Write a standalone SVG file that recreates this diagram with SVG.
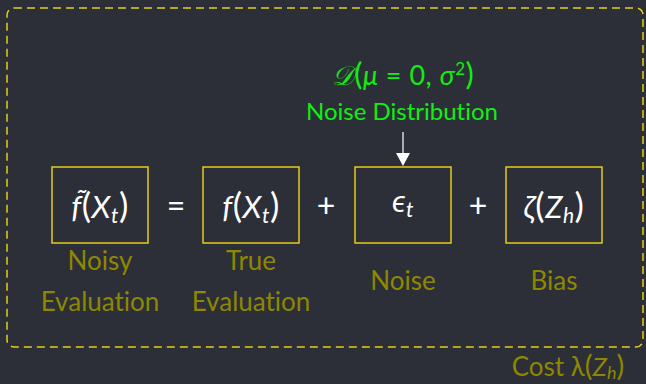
<svg xmlns="http://www.w3.org/2000/svg" width="646" height="384" viewBox="0 0 646 384">
<style>
.box{fill:none;stroke:#e2cd1a;stroke-width:1.5}
.math{font-family:Lato,"DejaVu Sans",sans-serif;font-size:31px;fill:#ffffff;letter-spacing:0.5px}
.it{font-style:italic}
.p{font-size:35px}
.sub{font-size:21px;font-style:italic}
.lbl{font-family:Lato,"Liberation Sans",sans-serif;font-size:26px;fill:#8e8700;text-anchor:middle;font-variant-ligatures:none}
.grn{font-family:Lato,"Liberation Sans",sans-serif;fill:#11ee11;text-anchor:middle;font-variant-ligatures:none}
.op{font-family:Lato,"DejaVu Sans",sans-serif;font-size:32px;fill:#ffffff;text-anchor:middle}
</style>
<rect width="646" height="384" fill="#2c2f38"/>
<rect x="7" y="8" width="636" height="339" rx="7" fill="none" stroke="#e2cd1a" stroke-width="1.5" stroke-dasharray="8 5"/>
<g id="connectors">
<line x1="403" y1="132" x2="403" y2="153" stroke="#ffffff" stroke-width="1.2"/>
<path d="M396,153 L410,153 L403,166 Z" fill="#ffffff"/>
</g>
<g id="noisy">
<rect class="box" x="52" y="167" width="96" height="76"/>
<text class="math" x="100" y="218" text-anchor="middle"><tspan class="it">f̃</tspan><tspan class="p">(</tspan><tspan class="it">X</tspan><tspan class="sub" dy="5">t</tspan><tspan class="p" dy="-5">)</tspan></text>
<text class="lbl" x="100" y="270">Noisy</text>
<text class="lbl" x="100" y="311">Evaluation</text>
</g>
<text class="op" x="176" y="217">=</text>
<g id="true">
<rect class="box" x="203" y="167" width="96" height="76"/>
<text class="math" x="251" y="218" text-anchor="middle"><tspan class="it">f</tspan><tspan class="p">(</tspan><tspan class="it">X</tspan><tspan class="sub" dy="5">t</tspan><tspan class="p" dy="-5">)</tspan></text>
<text class="lbl" x="251" y="270">True</text>
<text class="lbl" x="251" y="311">Evaluation</text>
</g>
<text class="op" x="326" y="217">+</text>
<g id="noise">
<rect class="box" x="355" y="167" width="96" height="76"/>
<text class="math" x="403" y="212" text-anchor="middle"><tspan class="it">ϵ</tspan><tspan class="sub" dy="5">t</tspan></text>
<text class="lbl" x="403" y="290">Noise</text>
</g>
<text class="op" x="478" y="217">+</text>
<g id="bias">
<rect class="box" x="506" y="167" width="96" height="76"/>
<text class="math" x="554" y="218" text-anchor="middle"><tspan class="it">ζ</tspan><tspan class="p">(</tspan><tspan class="it">Z</tspan><tspan class="sub" dy="5">h</tspan><tspan class="p" dy="-5">)</tspan></text>
<text class="lbl" x="554" y="290">Bias</text>
</g>
<g id="distribution">
<text class="grn" x="403" y="85" font-size="27px" letter-spacing="0.5"><tspan font-family="'DejaVu Serif',serif" font-style="italic">𝒟</tspan><tspan font-size="31px">(</tspan><tspan font-style="italic">μ</tspan> = 0, <tspan font-style="italic">σ</tspan><tspan font-size="17px" dy="-10">2</tspan><tspan dy="10" font-size="31px">)</tspan></text>
<text class="grn" x="402" y="120" font-size="24px">Noise Distribution</text>
</g>
<g id="cost">
<text class="lbl" x="568" y="376" font-size="25px">Cost λ<tspan font-size="29px">(</tspan><tspan font-style="italic">Z</tspan><tspan font-style="italic" font-size="18px" dy="3">h</tspan><tspan dy="-3" font-size="29px">)</tspan></text>
</g>
</svg>
